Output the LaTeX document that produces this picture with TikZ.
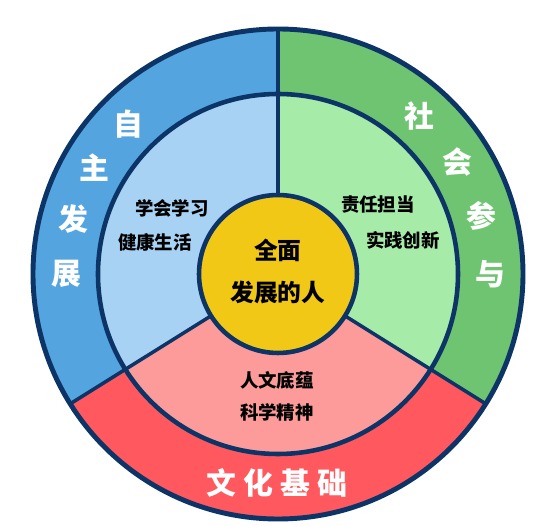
\documentclass[tikz,border=0pt]{standalone}
\usepackage{fontspec}
\setmainfont{Noto Sans CJK SC}
\usetikzlibrary{positioning}
\definecolor{outline}{RGB}{12, 52, 102}
\definecolor{blueout}{RGB}{84, 164, 224}
\definecolor{bluein}{RGB}{168, 210, 243}
\definecolor{greenout}{RGB}{110, 196, 112}
\definecolor{greenin}{RGB}{166, 235, 168}
\definecolor{redout}{RGB}{255, 88, 94}
\definecolor{redin}{RGB}{253, 155, 155}
\definecolor{core}{RGB}{242, 200, 22}

\begin{document}
\begin{tikzpicture}[x=0.02cm, y=0.02cm]
            \useasboundingbox (-278,-253) rectangle (277,274);
            % Anillo exterior
            \fill[blueout] (90:245) arc[start angle=90, end angle=212, radius=245] -- (212:180) arc[start angle=212, end angle=90, radius=180] -- cycle;
            \fill[greenout] (-32:245) arc[start angle=-32, end angle=90, radius=245] -- (90:180) arc[start angle=90, end angle=-32, radius=180] -- cycle;
            \fill[redout] (212:245) arc[start angle=212, end angle=328, radius=245] -- (328:180) arc[start angle=328, end angle=212, radius=180] -- cycle;
            
            % Anillo interior
            \fill[bluein] (90:180) arc[start angle=90, end angle=212, radius=180] -- (0,0) -- cycle;
            \fill[greenin] (-32:180) arc[start angle=-32, end angle=90, radius=180] -- (0,0) -- cycle;
            \fill[redin] (212:180) arc[start angle=212, end angle=328, radius=180] -- (0,0) -- cycle;
            
            % Divisiones
            \draw[outline, line width=2pt] (0,0) -- (90:245);
            \draw[outline, line width=2pt] (0,0) -- (212:245);
            \draw[outline, line width=2pt] (0,0) -- (-32:245);
            \draw[outline, line width=2.6pt] (0,0) circle[radius=180];
            \draw[outline, line width=2.8pt] (0,0) circle[radius=245];
            
            % Centro
            \node[circle, draw=outline, line width=2.6pt, fill=core, minimum size=3.16cm] (core) at (0,0) {};
            \node[font=\fontsize{13.5}{15}\selectfont\bfseries] (whole) at (0,24) {全面};
            \node[below of=whole, node distance=0.84cm, font=\fontsize{13.5}{15}\selectfont\bfseries] (person) {发展的人};
            
            % Etiquetas interiores
            \node[font=\fontsize{10.5}{12}\selectfont\bfseries] (learn) at (-106,66) {学会学习};
            \node[font=\fontsize{10.5}{12}\selectfont\bfseries] (health) at (-123,32) {健康生活};
            \node[font=\fontsize{10.5}{12}\selectfont\bfseries] (duty) at (100,69) {责任担当};
            \node[font=\fontsize{10.5}{12}\selectfont\bfseries] (practice) at (125,34) {实践创新};
            \node[font=\fontsize{10.5}{12}\selectfont\bfseries] (humanity) at (-1,-106) {人文底蕴};
            \node[below of=humanity, node distance=0.64cm, font=\fontsize{10.5}{12}\selectfont\bfseries] (science) {科学精神};
            
            % Etiquetas exteriores
            \foreach \ch [count=\i, evaluate=\i as \ang using 120+15*\i] in {自,主,发,展}
                \node[white, font=\fontsize{17}{19}\selectfont\bfseries] (self\i) at (\ang:212) {\ch};
            \foreach \ch [count=\i, evaluate=\i as \ang using 64-16*\i] in {社,会,参,与}
                \node[white, font=\fontsize{17}{19}\selectfont\bfseries] (social\i) at (\ang:212) {\ch};
            \node[white, font=\fontsize{17}{19}\selectfont\bfseries] (culture) at (-1,-209) {文\hspace{4pt}化\hspace{4pt}基\hspace{4pt}础};
        \end{tikzpicture}
\end{document}
